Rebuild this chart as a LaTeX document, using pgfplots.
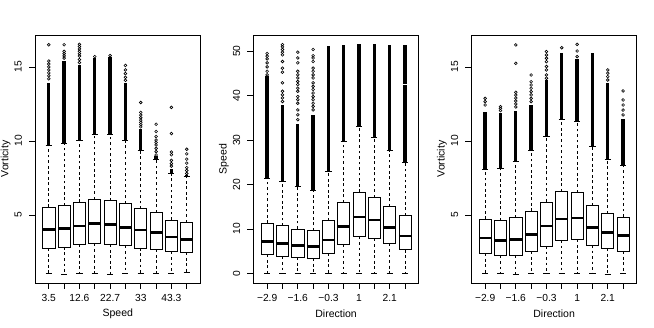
\documentclass[border=0pt]{standalone}
\usepackage{fontspec}
\setmainfont{Liberation Sans}
\usepackage{pgfplots}
\pgfplotsset{compat=1.18}
\usepgfplotslibrary{statistics}

\pgfplotsset{
  rpanel/.style={
    scale only axis, width=42.04mm, height=62.99mm, anchor=south west,
    xmin=0.1, xmax=10.9, xtick={1,...,10},
    tick align=outside, xtick pos=left, ytick pos=left,
    major tick length=4.3pt,
    axis line style={black, line width=0.7pt},
    tick style={black, line width=0.55pt},
    tick label style={font=\fontsize{7.4}{8.9}\selectfont},
    label style={font=\fontsize{7.6}{9}\selectfont},
    xticklabel style={anchor=center, yshift=-6.8pt},
    yticklabel style={anchor=center, xshift=-7.8pt, rotate=90},
    xlabel style={at={(axis description cs:0.5,-0.123)}, anchor=center},
    ylabel style={at={(axis description cs:-0.178,0.5)}, anchor=center},
    /pgf/number format/assume math mode=true,
    boxplot/draw direction=y,
    boxplot/box extend=0.8,
    boxplot/whisker extend=0.4,
    boxplot/every box/.style={black, line width=0.6pt},
    boxplot/every median/.style={black, line width=2pt},
    boxplot/draw/lower whisker/.code={%
      \draw[black, line width=0.55pt, dash pattern=on 2pt off 2pt]
        (boxplot cs:\pgfplotsboxplotvalue{lower quartile}) --
        (boxplot cs:\pgfplotsboxplotvalue{lower whisker});
      \draw[black, line width=0.55pt]
        (boxplot whisker cs:\pgfplotsboxplotvalue{lower whisker},0) --
        (boxplot whisker cs:\pgfplotsboxplotvalue{lower whisker},1);
    },
    boxplot/draw/upper whisker/.code={%
      \draw[black, line width=0.55pt, dash pattern=on 2pt off 2pt]
        (boxplot cs:\pgfplotsboxplotvalue{upper quartile}) --
        (boxplot cs:\pgfplotsboxplotvalue{upper whisker});
      \draw[black, line width=0.55pt]
        (boxplot whisker cs:\pgfplotsboxplotvalue{upper whisker},0) --
        (boxplot whisker cs:\pgfplotsboxplotvalue{upper whisker},1);
    },
  },
  rout/.style={black, mark=o, mark size=1pt, mark options={solid, line width=0.45pt}},
  dense/.style={black, line width=2.4pt, forget plot},
}

% \rbox{pos}{low whisker}{q1}{median}{q3}{up whisker}{top of dense outliers}{single outliers}
\newcommand{\rbox}[8]{%
  \addplot[dense] coordinates {(#1,#6)(#1,#7)};
  \addplot[rout, boxplot prepared={draw position=#1,
      lower whisker=#2, lower quartile=#3, median=#4,
      upper quartile=#5, upper whisker=#6}] coordinates {#8};
}

\begin{document}
\begin{tikzpicture}
\path[use as bounding box] (0,0) rectangle (166.1mm,83.06mm);

% Vorticity by Speed
\begin{axis}[rpanel, at={(8.89mm,11.18mm)},
  ymin=0.4, ymax=17.16, ytick={5,10,15},
  xticklabels={3.5,,12.6,,22.7,,33,,43.3,},
  xlabel={Speed}, ylabel={Vorticity}]
\rbox{1}{1.06}{2.75}{4.01}{5.52}{9.73}{13.9}{(1,14.2)(1,14.4)(1,14.6)(1,14.8)(1,15.0)(1,15.2)(1,15.4)(1,16.5)}
\rbox{2}{1.00}{2.84}{4.10}{5.63}{9.84}{15.4}{(2,15.6)(2,15.75)(2,15.9)(2,16.05)(2,16.5)}
\rbox{3}{1.06}{3.02}{4.26}{5.86}{10.06}{15.1}{(3,15.3)(3,15.5)(3,15.74)(3,15.9)(3,16.06)(3,16.22)(3,16.38)(3,16.53)}
\rbox{4}{1.06}{3.06}{4.41}{6.06}{10.47}{15.6}{(4,15.7)}
\rbox{5}{1.00}{3.02}{4.35}{5.99}{10.47}{15.65}{(5,15.77)}
\rbox{6}{1.06}{2.93}{4.14}{5.77}{10.06}{13.9}{(6,14.1)(6,14.3)(6,14.55)(6,14.8)(6,15.1)}
\rbox{7}{1.06}{2.77}{3.99}{5.41}{9.39}{10.8}{(7,10.95)(7,11.1)(7,11.26)(7,11.41)(7,11.57)(7,11.75)(7,11.93)(7,12.6)}
\rbox{8}{1.06}{2.68}{3.81}{5.16}{8.78}{9.0}{(8,9.05)(8,9.28)(8,9.5)(8,9.73)(8,9.9)(8,10.06)(8,10.3)(8,10.64)(8,11.13)}
\rbox{9}{1.06}{2.52}{3.51}{4.66}{7.82}{8.1}{(9,8.3)(9,8.47)(9,8.69)(9,9.07)(9,9.25)(9,10.5)(9,12.27)}
\rbox{10}{1.10}{2.48}{3.33}{4.50}{7.59}{7.7}{(10,7.8)(10,8.0)(10,8.2)(10,8.5)(10,8.77)(10,9.13)(10,9.44)}
\end{axis}

% Speed by Direction
\begin{axis}[rpanel, at={(64.34mm,11.18mm)},
  ymin=-2.18, ymax=53.67, ytick={0,10,20,30,40,50},
  xticklabels={−2.9,,−1.6,,−0.3,,1,,2.1,},
  xlabel={Direction}, ylabel={Speed}]
\rbox{1}{0}{4.3}{7.2}{11.3}{21.4}{44.4}{(1,44.7)(1,45.5)(1,46.5)(1,47.4)(1,48.3)(1,48.9)(1,49.5)}
\rbox{2}{0}{3.8}{6.7}{10.7}{20.7}{38.0}{(2,38.7)(2,39.5)(2,40.2)(2,41.0)(2,42.9)(2,45.3)(2,46.2)(2,47.7)(2,49.2)(2,49.8)(2,50.4)(2,51.0)(2,51.5)}
\rbox{3}{0}{3.6}{6.2}{10.0}{19.5}{33.7}{(3,34.6)(3,35.7)(3,36.8)(3,38.3)(3,39.1)(3,39.8)(3,41.0)(3,41.7)(3,42.5)(3,43.2)(3,44.0)(3,44.7)(3,45.5)(3,47.4)(3,48.5)(3,49.8)}
\rbox{4}{0}{3.4}{6.0}{9.6}{18.6}{35.7}{(4,36.8)(4,37.6)(4,38.3)(4,39.1)(4,39.8)(4,40.6)(4,41.4)(4,42.1)(4,42.9)(4,44.0)(4,44.7)(4,45.5)(4,46.2)(4,47.7)(4,48.5)(4,49.0)(4,50.4)}
\rbox{5}{0}{4.5}{7.5}{11.95}{22.9}{51.3}{}
\rbox{6}{0}{6.5}{10.6}{15.9}{29.8}{51.5}{}
\rbox{7}{0}{8.3}{12.7}{18.3}{33.1}{51.6}{}
\rbox{8}{0}{7.8}{12.0}{17.1}{30.6}{51.6}{}
\rbox{9}{0}{6.7}{10.3}{15.0}{27.6}{51.5}{}
\rbox{10}{0}{5.3}{8.4}{13.0}{24.9}{42.3}{}
\addplot[dense] coordinates {(10,42.7)(10,51.5)};
\end{axis}

% Vorticity by Direction
\begin{axis}[rpanel, at={(119.71mm,11.18mm)},
  ymin=0.4, ymax=17.16, ytick={5,10,15},
  xticklabels={−2.9,,−1.6,,−0.3,,1,,2.1,},
  xlabel={Direction}, ylabel={Vorticity}]
\rbox{1}{1.06}{2.41}{3.45}{4.71}{8.09}{11.98}{(1,12.43)(1,12.66)(1,12.88)}
\rbox{2}{1.06}{2.25}{3.29}{4.64}{8.15}{11.9}{(2,12.05)(2,12.2)(2,12.32)}
\rbox{3}{1.00}{2.25}{3.33}{4.84}{8.65}{12.0}{(3,12.3)(3,12.5)(3,12.7)(3,12.9)(3,13.1)(3,13.29)(3,15.25)(3,16.49)}
\rbox{4}{1.06}{2.55}{3.69}{5.25}{9.35}{12.43}{(4,12.66)(4,12.88)(4,13.11)(4,13.33)(4,13.56)(4,13.78)(4,14.0)(4,14.46)}
\rbox{5}{1.06}{2.90}{4.26}{5.88}{10.34}{14.1}{(5,14.24)(5,14.46)(5,14.8)(5,15.03)(5,15.36)(5,15.59)(5,15.81)(5,16.04)}
\rbox{6}{1.06}{3.31}{4.73}{6.58}{11.46}{15.92}{(6,16.3)}
\rbox{7}{1.06}{3.36}{4.80}{6.53}{11.30}{15.55}{(7,15.7)(7,16.08)(7,16.53)}
\rbox{8}{1.06}{2.97}{4.17}{5.65}{9.62}{15.92}{}
\rbox{9}{1.00}{2.75}{3.83}{5.11}{8.74}{13.9}{(9,14.12)(9,14.35)(9,14.58)(9,14.8)}
\rbox{10}{1.06}{2.55}{3.60}{4.86}{8.36}{11.5}{(10,11.76)(10,12.09)(10,12.43)(10,12.77)(10,13.38)}
\end{axis}
\end{tikzpicture}
\end{document}
